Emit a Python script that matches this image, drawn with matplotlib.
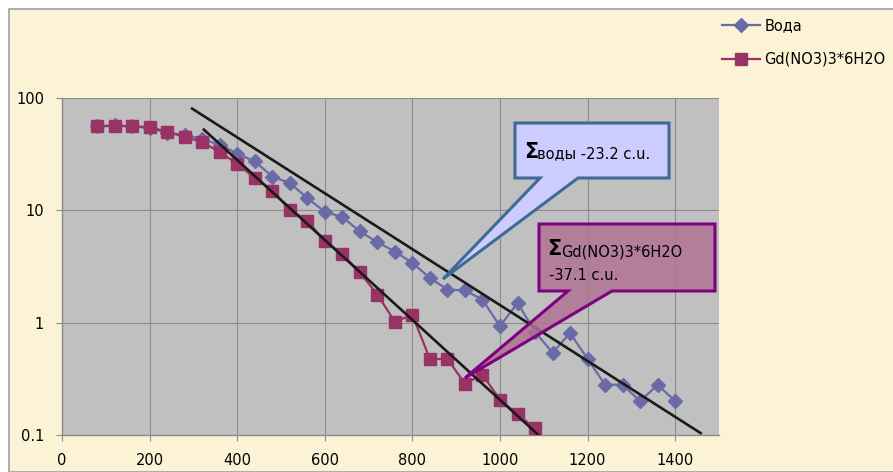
import matplotlib
matplotlib.use("Agg")
import matplotlib.pyplot as plt
from matplotlib.patches import Polygon, Rectangle
from matplotlib.ticker import FixedLocator, FixedFormatter, NullLocator

# ---------------- data ----------------
water_x = [80, 120, 160, 200, 240, 280, 320, 360, 400, 440, 480, 520, 560, 600,
           640, 680, 720, 760, 800, 840, 880, 920, 960, 1000, 1040, 1080, 1120,
           1160, 1200, 1240, 1280, 1320, 1360, 1400]
water_y = [56, 57, 56, 54, 49, 47, 43, 38.5, 32, 27.3, 20, 17.5, 12.9, 9.7,
           8.7, 6.5, 5.2, 4.3, 3.4, 2.5, 1.97, 1.94, 1.60, 0.93, 1.50, 0.83, 0.54,
           0.81, 0.475, 0.28, 0.28, 0.20, 0.28, 0.20]

gd_x = [80, 120, 160, 200, 240, 280, 320, 360, 400, 440, 480, 520, 560, 600,
        640, 680, 720, 760, 800, 840, 880, 920, 960, 1000, 1040, 1080]
gd_y = [56, 56.5, 56, 55, 50, 45, 40.6, 33, 26, 19.4, 15, 10.1, 8.1, 5.3,
        4.1, 2.8, 1.78, 1.02, 1.17, 0.475, 0.475, 0.286, 0.344, 0.206, 0.153, 0.115]

fit_water_x = [297, 1458]
fit_water_y = [80.5, 0.104]
fit_gd_x = [324, 1098]
fit_gd_y = [52.3, 0.092]

x_ticks = [0, 200, 400, 600, 800, 1000, 1200, 1400]
y_ticks = [0.1, 1, 10, 100]
y_tick_labels = ["0.1", "1", "10", "100"]

series_labels = ["Вода", "Gd(NO3)3*6H2O"]
callout_water = ("Σ", "воды -23.2 с.u.")
callout_gd = ("Σ", "Gd(NO3)3*6H2O", "-37.1 с.u.")

# ---------------- figure ----------------
W, H = 893, 472
fig = plt.figure(figsize=(W / 100, H / 100), dpi=100)
fig.patch.set_facecolor("white")

def fx(px):
    return px / W

def fy(py):
    return 1 - py / H

# parchment panel with grey frame
fig.patches.append(Rectangle((fx(9), 0), 1 - fx(9) + 0.01, fy(9), transform=fig.transFigure,
                             facecolor="#fcf3d6", edgecolor="#a0a0a0", linewidth=1.2,
                             zorder=-10))

ax = fig.add_axes([fx(62), fy(435), fx(719) - fx(62), fy(98) - fy(435)])
ax.set_facecolor("#c0c0c0")
ax.set_yscale("log")
ax.set_xlim(0, 1500)
ax.set_ylim(0.1, 100)

ax.xaxis.set_major_locator(FixedLocator(x_ticks))
ax.yaxis.set_major_locator(FixedLocator(y_ticks))
ax.yaxis.set_major_formatter(FixedFormatter(y_tick_labels))
ax.yaxis.set_minor_locator(NullLocator())
ax.grid(True, which="major", color="#8c8c8c", linewidth=0.8)
ax.set_axisbelow(True)

for s in ["top", "right"]:
    ax.spines[s].set_visible(False)
for s in ["left", "bottom"]:
    ax.spines[s].set_color("#8c8c8c")
    ax.spines[s].set_linewidth(1.0)

ax.tick_params(axis="both", direction="out", length=4, color="#8c8c8c",
               labelsize=10.5, labelcolor="black")
ax.tick_params(axis="x", pad=9)
ax.tick_params(axis="y", pad=9)

water_color = "#6a6aa6"
gd_color = "#993366"

l1, = ax.plot(water_x, water_y, color=water_color, linewidth=1.6, marker="D",
              markersize=7, markerfacecolor=water_color, markeredgecolor=water_color,
              label=series_labels[0], zorder=3)
l2, = ax.plot(gd_x, gd_y, color=gd_color, linewidth=1.6, marker="s",
              markersize=8.5, markerfacecolor=gd_color, markeredgecolor=gd_color,
              label=series_labels[1], zorder=4)

ax.plot(fit_water_x, fit_water_y, color="#1a1a1a", linewidth=1.9, zorder=5)
ax.plot(fit_gd_x, fit_gd_y, color="#1a1a1a", linewidth=1.9, zorder=5)

leg = fig.legend(handles=[l1, l2], loc="upper left",
                 bbox_to_anchor=(fx(722), fy(18)), frameon=False, fontsize=10.5,
                 handlelength=2.6, handletextpad=0.3, labelspacing=1.3,
                 borderaxespad=0, borderpad=0)

# ---------------- callouts ----------------
def callout(box, base, tip, face, edge):
    x0, x1, y0, y1 = box
    b0, b1 = base
    pts = [(x0, y0), (x1, y0), (x1, y1), (b1, y1), tip, (b0, y1), (x0, y1)]
    poly = Polygon([(fx(a), fy(b)) for a, b in pts], closed=True,
                   transform=fig.transFigure, facecolor=face, edgecolor=edge,
                   linewidth=2.2, joinstyle="miter", zorder=10)
    fig.patches.append(poly)

callout((515, 669, 123, 178), (540, 578), (443, 279), "#ccccff", "#3f6a94")
callout((539, 715, 224, 291), (568, 612), (465, 378), (0.69, 0.45, 0.58, 0.85), "#800080")

fig.text(fx(524), fy(152), callout_water[0], fontsize=15, fontweight="bold",
         va="center", ha="left", zorder=11)
fig.text(fx(537), fy(154), callout_water[1], fontsize=10.5, va="center", ha="left",
         zorder=11)

fig.text(fx(547), fy(249), callout_gd[0], fontsize=15, fontweight="bold",
         va="center", ha="left", zorder=11)
fig.text(fx(561), fy(252), callout_gd[1], fontsize=10.5, va="center", ha="left",
         zorder=11)
fig.text(fx(549), fy(276), callout_gd[2], fontsize=10.5, va="center", ha="left",
         zorder=11)

fig.savefig("out.png", dpi=100, facecolor=fig.get_facecolor())
